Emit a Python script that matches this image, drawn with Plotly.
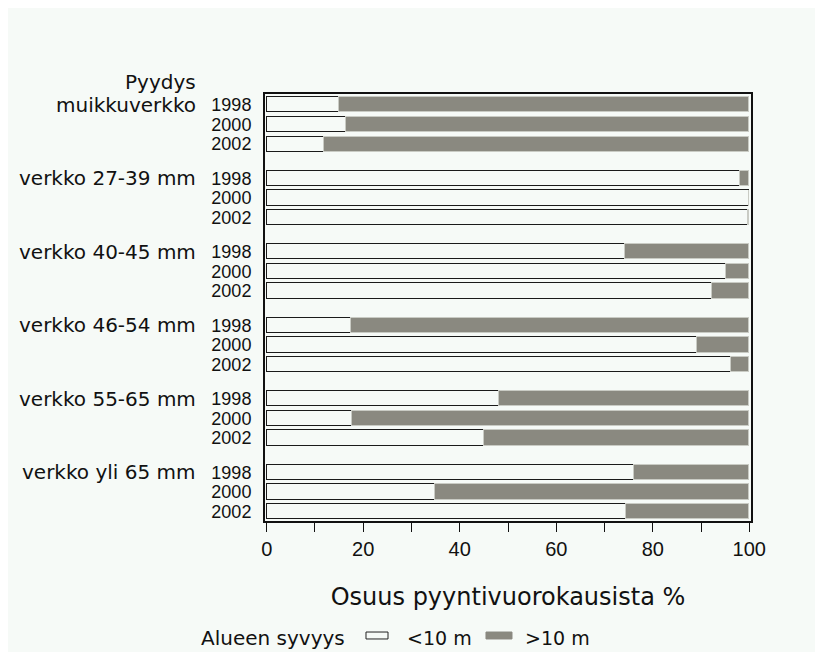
import plotly.graph_objects as go

groups = ["muikkuverkko", "verkko 27-39 mm", "verkko 40-45 mm",
          "verkko 46-54 mm", "verkko 55-65 mm", "verkko yli 65 mm"]
years = ["1998", "2000", "2002"]
shallow = [15.0, 16.4, 11.9,
           98.0, 100.0, 99.8,
           74.3, 95.1, 92.3,
           17.5, 89.2, 96.2,
           48.2, 17.7, 45.1,
           76.1, 34.9, 74.5]
deep = [85.0, 83.6, 88.1,
        2.0, 0.0, 0.2,
        25.7, 4.9, 7.7,
        82.5, 10.8, 3.8,
        51.8, 82.3, 54.9,
        23.9, 65.1, 25.5]
x_ticks = [0, 20, 40, 60, 80, 100]
legend_title = "Alueen syvyys"
series_names = ["<10 m", ">10 m"]

GROUP_STEP = 3.734
pos = [g * GROUP_STEP + j for g in range(len(groups)) for j in range(len(years))]
ytext = [y for _ in groups for y in years]

BG = "#f6faf7"
DARK = "#8a8980"
SANS = "Liberation Sans, Arial, sans-serif"
WIDE = "DejaVu Sans, sans-serif"
colors = [BG, DARK]
edge = ["#1a1a1a", "#c9cbc4"]

fig = go.Figure()
for vals, nm, c, e in zip([shallow, deep], series_names, colors, edge):
    fig.add_trace(go.Bar(y=pos, x=vals, orientation="h", name=nm,
                         marker=dict(color=c, line=dict(color=e, width=1)),
                         width=0.777, showlegend=False))

annotations = []
for g, name in enumerate(groups):
    annotations.append(dict(x=-0.138, xref="paper", y=g * GROUP_STEP, yref="y",
                            text=name, showarrow=False, xanchor="right", yanchor="middle",
                            font=dict(family=WIDE, size=20, color="#111")))
annotations.append(dict(x=-0.138, xref="paper", y=1.029, yref="paper",
                        text="Pyydys", showarrow=False, xanchor="right", yanchor="middle",
                        font=dict(family=WIDE, size=20, color="#111")))

# manual legend (keys + labels) below the axis title
LEG_Y = -0.274
annotations.append(dict(x=-0.1358, xref="paper", y=LEG_Y, yref="paper", text=legend_title,
                        showarrow=False, xanchor="left", yanchor="middle",
                        font=dict(family=WIDE, size=20, color="#111")))
key_x = [(0.2078, 0.2531, 0.288), (0.4547, 0.5082, 0.5309)]
shapes = []
for (x0, x1, tx), nm, c in zip(key_x, series_names, colors):
    shapes.append(dict(type="rect", xref="paper", yref="paper", x0=x0, x1=x1,
                       y0=-0.2763, y1=-0.260, fillcolor=c,
                       line=dict(color="#222" if c == BG else c, width=1)))
    annotations.append(dict(x=tx, xref="paper", y=LEG_Y, yref="paper", text=nm,
                            showarrow=False, xanchor="left", yanchor="middle",
                            font=dict(family=WIDE, size=19, color="#111")))

fig.update_layout(
    barmode="stack",
    width=823, height=652,
    margin=dict(l=257, r=80, t=86, b=139),
    paper_bgcolor=BG,
    plot_bgcolor=BG,
    bargap=0,
    showlegend=False,
    annotations=annotations,
    shapes=shapes,
    xaxis=dict(range=[-0.35, 100.35], tickvals=x_ticks, ticktext=[str(v) for v in x_ticks],
               ticks="outside", ticklen=9, tickwidth=1, tickcolor="#111",
               minor=dict(dtick=10, ticks="outside", ticklen=9, tickwidth=1, tickcolor="#111"),
               showline=True, linewidth=2, linecolor="#111", mirror=True,
               showgrid=False, zeroline=False,
               tickfont=dict(family=SANS, size=20, color="#111"),
               title=dict(text="Osuus pyyntivuorokausista %", standoff=29,
                          font=dict(family=WIDE, size=24, color="#111"))),
    yaxis=dict(range=[21.15, -0.548], tickvals=pos, ticktext=ytext,
               ticks="", showline=True, linewidth=2, linecolor="#111", mirror=True,
               showgrid=False, zeroline=False, ticklabelstandoff=8,
               tickfont=dict(family=SANS, size=18, color="#111")),
)

fig.write_html("out.html")
